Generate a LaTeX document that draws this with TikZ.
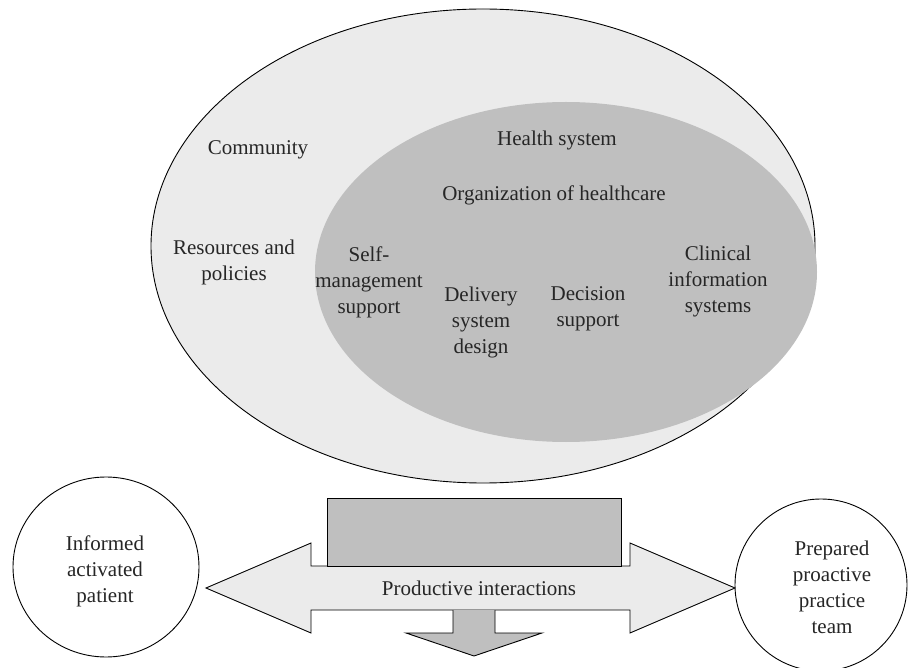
\documentclass[tikz,border=0pt]{standalone}
\usepackage{fontspec}
\setmainfont{Liberation Serif}
\definecolor{outerfill}{HTML}{EBEBEB}
\definecolor{innerfill}{HTML}{BFBFBF}
\begin{document}
\begin{tikzpicture}[x=1pt,y=-1pt,
  lbl/.style={align=center, font=\fontsize{21}{26}\selectfont, inner sep=0pt, text=black!85},
  edge/.style={draw=black, line width=0.9pt}]
\useasboundingbox (0,0) rectangle (908,668);
% community ellipse
\filldraw[fill=outerfill, edge] (483,246) ellipse [x radius=332pt, y radius=237pt];
% health system ellipse
\fill[innerfill] (566,272) ellipse [x radius=251pt, y radius=170pt];
% productive interactions double arrow
\filldraw[fill=outerfill, edge] (206,588) -- (311,543) -- (311,566) -- (630,566) -- (630,543) -- (735,588) -- (630,633) -- (630,610) -- (311,610) -- (311,633) -- cycle;
% grey box above arrow
\filldraw[fill=innerfill, edge] (327,498) rectangle (621,566);
% down arrow
\fill[innerfill] (453,610) -- (453,633) -- (406,633) -- (474,656) -- (542,633) -- (495,633) -- (495,610) -- cycle;
\draw[edge] (453,610) -- (453,633) -- (406,633) -- (474,656) -- (542,633) -- (495,633) -- (495,610);
% circles
\filldraw[fill=white, edge] (106,567) ellipse [x radius=93pt, y radius=90pt];
\filldraw[fill=white, edge] (821,585) ellipse [x radius=86pt, y radius=86pt];
% labels
\node[lbl] (community) at (258,150) {Community};
\node[lbl] (resources) at (234,262) {Resources and\\policies};
\node[lbl] (health) at (557,140) {Health system};
\node[lbl] (org) at (554,195) {Organization of healthcare};
\node[lbl] (self) at (369,282) {Self-\\management\\support};
\node[lbl] (delivery) at (481,322) {Delivery\\system\\design};
\node[lbl] (decision) at (588,309) {Decision\\support};
\node[lbl] (clinical) at (718,281) {Clinical\\information\\systems};
\node[lbl] (productive) at (479,588) {Productive interactions};
\node[lbl] (patient) at (105,571) {Informed\\activated\\patient};
\node[lbl] (team) at (832,587) {Prepared\\proactive\\practice\\team};
\end{tikzpicture}
\end{document}
